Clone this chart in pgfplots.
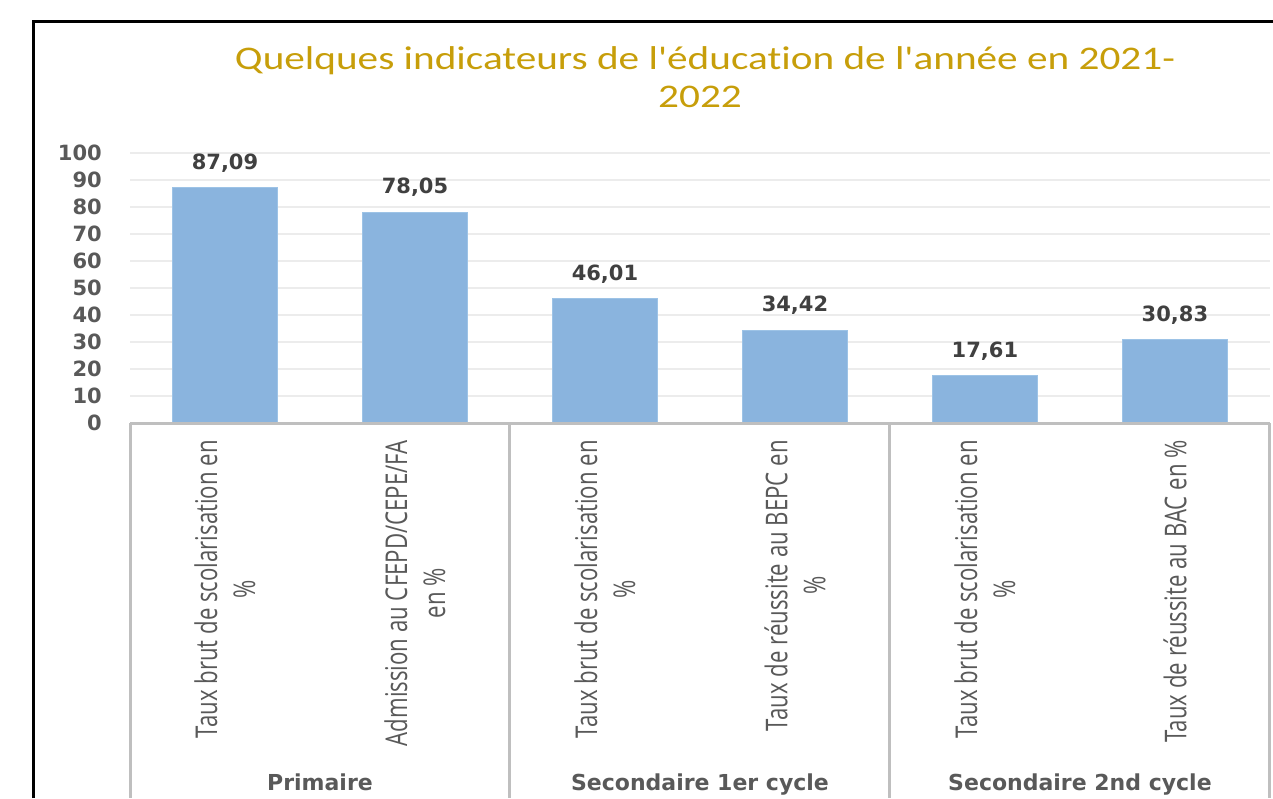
\documentclass[border=0pt]{standalone}
\usepackage{pgfplots}
\pgfplotsset{compat=1.18}
\usepackage{fontspec}
\setmainfont{DejaVu Sans}
\newfontfamily\titlefont{Carlito}[FakeStretch=1.25,Ligatures=NoCommon]
\newfontfamily\catfont{Open Sans}[FakeStretch=0.74]
\definecolor{barblue}{RGB}{138,180,222}
\definecolor{baredge}{RGB}{157,195,230}
\definecolor{titlegold}{RGB}{199,158,10}
\definecolor{txtgray}{RGB}{89,89,89}
\definecolor{lblgray}{RGB}{64,64,64}
\definecolor{gridgray}{RGB}{236,236,236}
\definecolor{sepgray}{RGB}{191,191,191}
\begin{document}
\begin{tikzpicture}
\useasboundingbox (0pt,0pt) rectangle (1273pt,-798pt);
\draw[line width=3pt,black] (33pt,-798pt) -- (33pt,-21pt) -- (1273pt,-21pt);
\node[anchor=base,text=titlegold,font=\titlefont\fontsize{33}{40}\selectfont,inner sep=0pt] at (705pt,-69pt) {Quelques indicateurs de l'éducation de l'année en 2021-};
\node[anchor=base,text=titlegold,font=\titlefont\fontsize{33}{40}\selectfont,inner sep=0pt] at (700pt,-107pt) {2022};
\begin{axis}[
  at={(130pt,-423pt)}, anchor=south west,
  scale only axis, width=1140pt, height=270pt,
  xmin=-0.5, xmax=5.5, ymin=0, ymax=100,
  ytick={0,10,...,100},
  xtick={0,1,2,3,4,5},
  xticklabels={{Taux brut de scolarisation en\\\%},{Admission au CFEPD/CEPE/FA\\en \%},{Taux brut de scolarisation en\\\%},{Taux de réussite au BEPC en\\\%},{Taux brut de scolarisation en\\\%},{Taux de réussite au BAC en \%}},
  axis line style={draw=none},
  major tick style={draw=none},
  ymajorgrids, grid style={gridgray,line width=1.5pt},
  /pgf/number format/assume math mode=true,
  yticklabel style={font=\fontsize{21}{25}\selectfont\bfseries, text=txtgray, anchor=east, inner sep=0pt},
  yticklabel shift=28pt,
  xticklabel style={font=\catfont\fontsize{30}{38}\selectfont, text=txtgray, rotate=90, anchor=east, align=center, inner sep=0pt},
  xticklabel shift=17pt,
  clip=false,
  nodes near coords={\pgfmathprintnumber[fixed,fixed zerofill,precision=2,use comma,assume math mode=true]{\pgfplotspointmeta}},
  every node near coord/.append style={font=\fontsize{21}{25}\selectfont\bfseries, text=lblgray, anchor=south, inner sep=0pt, yshift=15pt},
]
\addplot[ybar, bar width=105pt, fill=barblue, draw=baredge, line width=0.8pt] coordinates {
  (0,87.09) (1,78.05) (2,46.01) (3,34.42) (4,17.61) (5,30.83)
};
\draw[sepgray,line width=3pt] (axis cs:-0.5,0) -- (axis cs:5.5,0);
\draw[sepgray,line width=3pt] (axis cs:-0.5,0) -- ++(0pt,-375pt);
\draw[sepgray,line width=3pt] (axis cs:1.5,0) -- ++(0pt,-375pt);
\draw[sepgray,line width=3pt] (axis cs:3.5,0) -- ++(0pt,-375pt);
\draw[sepgray,line width=3pt] (axis cs:5.5,0) -- ++(0pt,-375pt);
\node[anchor=base, font=\fontsize{22}{26}\selectfont\bfseries, text=txtgray, inner sep=0pt] at (axis cs:0.5,0) [yshift=-367pt] {Primaire};
\node[anchor=base, font=\fontsize{22}{26}\selectfont\bfseries, text=txtgray, inner sep=0pt] at (axis cs:2.5,0) [yshift=-367pt] {Secondaire 1er cycle};
\node[anchor=base, font=\fontsize{22}{26}\selectfont\bfseries, text=txtgray, inner sep=0pt] at (axis cs:4.5,0) [yshift=-367pt] {Secondaire 2nd cycle};
\end{axis}
\end{tikzpicture}
\end{document}
